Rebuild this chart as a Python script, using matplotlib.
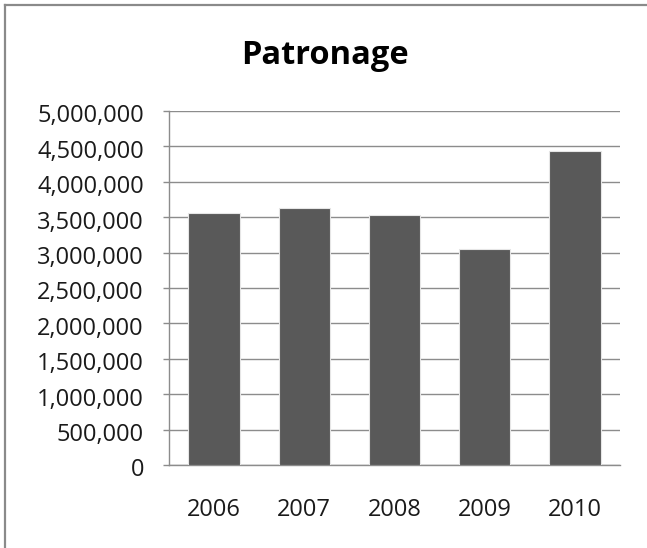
import matplotlib
matplotlib.use("Agg")
import matplotlib.pyplot as plt
import matplotlib.transforms as mtransforms
from matplotlib.lines import Line2D
from matplotlib.ticker import FuncFormatter, MultipleLocator

years = ["2006", "2007", "2008", "2009", "2010"]
patronage = [3566000, 3637000, 3529000, 3047000, 4428000]

plt.rcParams["font.family"] = ["Open Sans", "DejaVu Sans"]

W, H = 647, 548
fig = plt.figure(figsize=(W / 100, H / 100), dpi=100)
fig.patch.set_facecolor("white")

# outer chart frame: top and left edges only, the rest runs off the image
frame_kw = dict(transform=fig.transFigure, color="#8a8a8a", linewidth=1.6)
fig.lines.append(Line2D([5 / W, 1.05], [1 - 5 / H, 1 - 5 / H], **frame_kw))
fig.lines.append(Line2D([5 / W, 5 / W], [-0.05, 1 - 5 / H], **frame_kw))

ax = fig.add_axes([169 / W, 83 / H, (620 - 169) / W, (465 - 111) / H])

x = range(len(years))
ax.bar(x, patronage, width=0.57, color="#595959", edgecolor="#e6e6e6",
       linewidth=0.8, zorder=3)

ax.set_xlim(-0.5, len(years) - 0.5)
ax.set_ylim(0, 5000000)
ax.yaxis.set_major_locator(MultipleLocator(500000))
ax.yaxis.set_major_formatter(FuncFormatter(lambda v, p: f"{int(v):,}"))
ax.set_xticks(list(x))
ax.set_xticklabels(years)

ax.grid(axis="y", color="#8c8c8c", linewidth=1.0, zorder=0)
ax.set_axisbelow(True)
for s in ("top", "right"):
    ax.spines[s].set_visible(False)
for s in ("left", "bottom"):
    ax.spines[s].set_color("#8c8c8c")
    ax.spines[s].set_linewidth(1.0)

ax.tick_params(axis="y", length=4, width=1, color="#8c8c8c", pad=14,
               labelsize=17, labelcolor="#1a1a1a")
ax.tick_params(axis="x", length=0, pad=24, labelsize=17, labelcolor="#1a1a1a")

shift = mtransforms.ScaledTranslation(0, -2.5 / 100, fig.dpi_scale_trans)
for lbl in ax.get_yticklabels():
    lbl.set_transform(lbl.get_transform() + shift)

fig.text(325 / W, 1 - 56 / H, "Patronage", ha="center", va="center",
         fontsize=23.5, fontweight="bold", color="#000000")

fig.savefig("out.png", dpi=100)
